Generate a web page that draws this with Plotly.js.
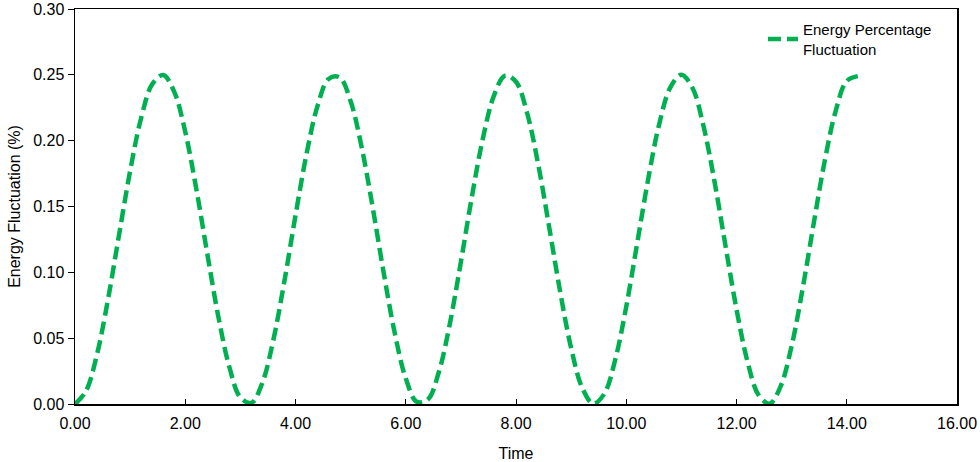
<!DOCTYPE html>
<html>
<head>
<meta charset="utf-8">
<script src="https://cdn.plot.ly/plotly-3.0.1.min.js"></script>
<style>html,body{margin:0;padding:0;background:#fff;}#chart{width:980px;height:462px;}</style>
</head>
<body>
<div id="chart"></div>
<script>
const timeValues = [
  0.0, 0.2, 0.4, 0.6, 0.8, 1.0, 1.2, 1.4, 1.6, 1.8,
  2.0, 2.2, 2.4, 2.6, 2.8, 3.0, 3.2, 3.4, 3.6, 3.8,
  4.0, 4.2, 4.4, 4.6, 4.8, 5.0, 5.2, 5.4, 5.6, 5.8,
  6.0, 6.2, 6.4, 6.6, 6.8, 7.0, 7.2, 7.4, 7.6, 7.8,
  8.0, 8.2, 8.4, 8.6, 8.8, 9.0, 9.2, 9.4, 9.6, 9.8,
  10.0, 10.2, 10.4, 10.6, 10.8, 11.0, 11.2, 11.4, 11.6, 11.8,
  12.0, 12.2, 12.4, 12.6, 12.8, 13.0, 13.2, 13.4, 13.6, 13.8,
  14.0, 14.2
];
const energyFluctuation = [
  0.0000, 0.0099, 0.0379, 0.0797, 0.1287, 0.1770, 0.2172, 0.2428, 0.2498, 0.2371,
  0.2067, 0.1634, 0.1141, 0.0664, 0.0281, 0.0050, 0.0009, 0.0163, 0.0490, 0.0936,
  0.1432, 0.1899, 0.2264, 0.2469, 0.2481, 0.2299, 0.1951, 0.1493, 0.0996, 0.0540,
  0.0195, 0.0017, 0.0034, 0.0243, 0.0610, 0.1079, 0.1575, 0.2019, 0.2342, 0.2493,
  0.2447, 0.2212, 0.1826, 0.1348, 0.0855, 0.0425, 0.0124, 0.0002, 0.0076, 0.0336,
  0.0740, 0.1225, 0.1713, 0.2129, 0.2405, 0.2500, 0.2402, 0.2113, 0.1692, 0.1202,
  0.0720, 0.0321, 0.0069, 0.0003, 0.0134, 0.0441, 0.0876, 0.1370, 0.1845, 0.2227,
  0.2453, 0.2490
];
const xTickVals = [0, 2, 4, 6, 8, 10, 12, 14, 16];
const xTickText = ["0.00", "2.00", "4.00", "6.00", "8.00", "10.00", "12.00", "14.00", "16.00"];
const yTickVals = [0, 0.05, 0.10, 0.15, 0.20, 0.25, 0.30];
const yTickText = ["0.00", "0.05", "0.10", "0.15", "0.20", "0.25", "0.30"];
const seriesName = "Energy Percentage<br>Fluctuation";

const trace = {
  x: timeValues,
  y: energyFluctuation,
  type: "scatter",
  mode: "lines",
  name: seriesName,
  line: {color: "#00B050", width: 4.5, dash: "13px,6px", shape: "spline", smoothing: 1}
};

const font = {family: "Liberation Sans, Arial, sans-serif", size: 16, color: "#000"};

const layout = {
  width: 980, height: 462,
  margin: {l: 75, r: 23, t: 9, b: 58},
  paper_bgcolor: "#fff", plot_bgcolor: "#fff",
  font: font,
  showlegend: true,
  legend: {x: 0.78, y: 0.99, xanchor: "left", yanchor: "top", bgcolor: "rgba(0,0,0,0)",
           font: {family: font.family, size: 15, color: "#000"}, tracegroupgap: 0},
  xaxis: {
    range: [0, 16], tickvals: xTickVals, ticktext: xTickText,
    showgrid: false, zeroline: false, showline: true, linecolor: "#000", linewidth: 1.5,
    mirror: true, ticks: "inside", ticklen: 5, tickcolor: "#000",
    ticklabelstandoff: 4, ticklabeloverflow: "allow",
    title: {text: "Time", font: {family: font.family, size: 16}, standoff: 20}
  },
  yaxis: {
    range: [0, 0.3], tickvals: yTickVals, ticktext: yTickText,
    showgrid: false, zeroline: false, showline: true, linecolor: "#000", linewidth: 1.5,
    mirror: true, ticks: "outside", ticklen: 6, tickcolor: "#000",
    ticklabeloverflow: "allow",
    title: {text: "Energy Fluctuation (%)", font: {family: font.family, size: 16}, standoff: 8}
  }
};

Plotly.newPlot("chart", [trace], layout, {displayModeBar: false, staticPlot: true});
</script>
</body>
</html>
